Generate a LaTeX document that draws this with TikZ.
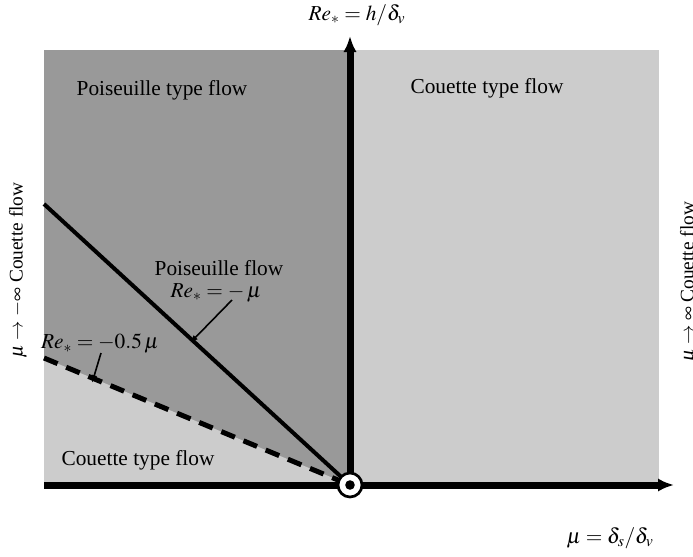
\documentclass[tikz,border=0pt]{standalone}
\usepackage{mathptmx}
\usepackage{fontspec}
\setmainfont{Liberation Serif}
\usetikzlibrary{arrows.meta}
\definecolor{darkreg}{gray}{0.6}
\definecolor{lightreg}{gray}{0.8}
\begin{document}
\begin{tikzpicture}[x=0.75pt,y=-0.75pt,
  lbl/.style={font=\fontsize{16}{19}\selectfont, inner sep=0pt},
  sidelbl/.style={font=\fontsize{14.5}{17}\selectfont, inner sep=0pt, rotate=90},
  axisline/.style={line width=5.25pt, -{Latex[length=12pt,width=10pt]}},
  ptr/.style={line width=1.2pt, -{Latex[length=6pt,width=4.5pt]}}]
\useasboundingbox (0,0) rectangle (693,557);
% regions
\fill[darkreg] (44,50) rectangle (350,485);
\fill[lightreg] (350,50) rectangle (659,485);
\fill[lightreg] (44,358) -- (350,485) -- (44,485) -- cycle;
% origin coordinate
\coordinate (O) at (350,485);
\coordinate (Lsolid) at (44,204);
\coordinate (Ldash) at (44,358);
% lines
\draw[line width=3pt] (Lsolid) -- (O);
\draw[line width=3.75pt, dash pattern=on 11pt off 7pt] (Ldash) -- (O);
% axes
\coordinate (Xstart) at (44,485);
\coordinate (Xend) at (674,485);
\coordinate (Yend) at (350,36);
\draw[axisline] (Xstart) -- (Xend);
\draw[axisline] (O) -- (Yend);
% origin marker
\node[circle, draw=black, fill=white, line width=2pt, minimum size=18pt, inner sep=0pt] (orig) at (O) {};
\fill[black] (O) circle (3.6pt);
% labels
\node[lbl] (ylab) at (357,15) {$Re_{*} = h/\delta_v$};
\node[lbl] (xlab) at (610,538) {$\mu = \delta_s/\delta_v$};
\node[lbl] (ptf) at (162,90) {Poiseuille type flow};
\node[lbl] (ctfr) at (487,88) {Couette type flow};
\node[lbl] (ctfl) at (138,460) {Couette type flow};
\node[lbl] (pf) at (219,268) {Poiseuille flow};
\node[lbl] (pfeq) at (216,293) {$Re_{*} = -\,\mu$};
\node[lbl] (dasheq) at (100,344) {$Re_{*} = -0.5\,\mu$};
\node[sidelbl] (leftlab) at (18,270) {$\mu\rightarrow-\infty$ Couette flow};
\node[sidelbl] (rightlab) at (689,282) {$\mu\rightarrow\infty$ Couette flow};
% pointers
\coordinate (psolid) at (190,343);
\coordinate (pdash) at (92,383);
\draw[ptr] (232,300) -- (psolid);
\draw[ptr] (101,353) -- (pdash);
\end{tikzpicture}
\end{document}
